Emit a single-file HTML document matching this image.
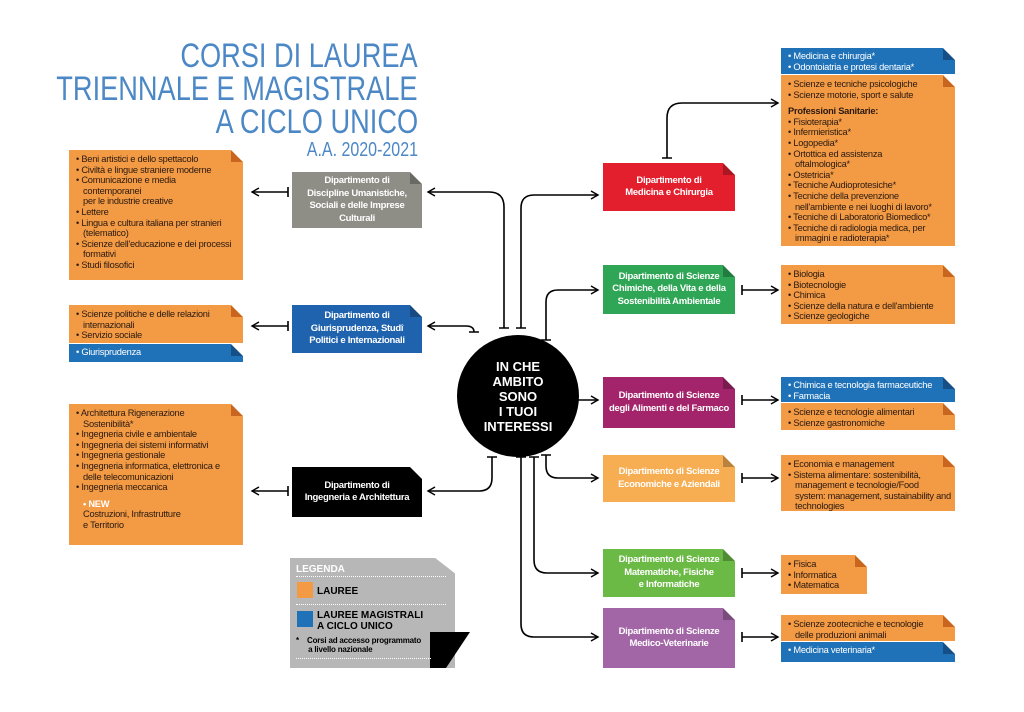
<!DOCTYPE html>
<html><head><meta charset="utf-8"><style>
body{margin:0;width:1024px;height:712px;background:#fff;position:relative;overflow:hidden;font-family:"Liberation Sans",sans-serif;}
.a{position:absolute;box-sizing:border-box;}
.o{background:#f39a45;color:#2a1a10;font-size:9.3px;letter-spacing:-0.25px;line-height:10.6px;padding:4px 4px 0 7px;}
.bl{background:#1f72b8;color:#fff;font-size:9.3px;letter-spacing:-0.25px;line-height:10.6px;padding:3px 4px 0 7px;}
.f::after{content:"";position:absolute;right:0;top:0;border-style:solid;border-width:0 12px 12px 0;border-color:transparent #fff transparent transparent;}
.f::before{content:"";position:absolute;right:0;top:0;width:12px;height:12px;background:linear-gradient(45deg,rgba(0,0,0,.25) 50%,transparent 50%);}
.o.f::before{background:linear-gradient(45deg,#c8651f 50%,transparent 50%);}
.bl.f::before{background:linear-gradient(45deg,#164f86 50%,transparent 50%);}
.d{color:#fff;font-weight:bold;font-size:9.5px;letter-spacing:-0.3px;line-height:12.5px;text-align:center;display:flex;align-items:center;justify-content:center;}
ul{margin:0;padding:0;list-style:none}
li{padding-left:7px;text-indent:-7px}
li::before{content:"• ";}
.t{position:absolute;right:606px;color:#4d88c6;font-size:34px;line-height:32px;text-align:right;white-space:nowrap;transform:scaleX(0.8);transform-origin:right center;}
</style></head><body>
<div class="t" style="top:40px">CORSI DI LAUREA</div>
<div class="t" style="top:73px">TRIENNALE E MAGISTRALE</div>
<div class="t" style="top:106px">A CICLO UNICO</div>
<div class="t" style="top:140px;font-size:20px;line-height:20px">A.A. 2020-2021</div>

<div class="a o f" style="left:69px;top:150px;width:174px;height:130px"><ul><li>Beni artistici e dello spettacolo</li><li>Civiltà e lingue straniere moderne</li><li>Comunicazione e media<br>contemporanei<br>per le industrie creative</li><li>Lettere</li><li>Lingua e cultura italiana per stranieri (telematico)</li><li>Scienze dell'educazione e dei processi formativi</li><li>Studi filosofici</li></ul></div>
<div class="a o f" style="left:69px;top:305px;width:174px;height:38px"><ul><li>Scienze politiche e delle relazioni internazionali</li><li>Servizio sociale</li></ul></div>
<div class="a bl f" style="left:69px;top:344px;width:174px;height:18px"><ul><li>Giurisprudenza</li></ul></div>
<div class="a o f" style="left:69px;top:404px;width:174px;height:141px"><ul><li>Architettura Rigenerazione<br>Sostenibilità*</li><li>Ingegneria civile e ambientale</li><li>Ingegneria dei sistemi informativi</li><li>Ingegneria gestionale</li><li>Ingegneria informatica, elettronica e delle telecomunicazioni</li><li>Ingegneria meccanica</li></ul><div style="margin-top:6px;padding-left:7px"><b style="color:#fff">• NEW</b><br>Costruzioni, Infrastrutture<br>e Territorio</div></div>

<div class="a d f" style="left:292px;top:172px;width:130px;height:56px;background:#8e8d86">Dipartimento di<br>Discipline Umanistiche,<br>Sociali e delle Imprese<br>Culturali</div>
<div class="a d f" style="left:292px;top:305px;width:130px;height:48px;background:#1f62ad">Dipartimento di<br>Giurisprudenza, Studî<br>Politici e Internazionali</div>
<div class="a d f" style="left:292px;top:467px;width:130px;height:50px;background:#000">Dipartimento di<br>Ingegneria e Architettura</div>

<div class="a" style="left:290px;top:558px;width:165px;height:110px;background:#b7b7b7;clip-path:polygon(0 0,88% 0,100% 14%,100% 100%,0 100%)"></div>
<div class="a" style="left:430px;top:632px;width:40px;height:36px;background:#000;clip-path:polygon(0 0,100% 0,40% 100%,0 100%)"></div>
<div class="a" style="left:296px;top:564px;width:150px;font-size:10px;color:#fff;font-weight:bold">LEGENDA</div>
<div class="a" style="left:296px;top:576px;width:150px;border-top:1px dotted #fff"></div>
<div class="a" style="left:297px;top:582px;width:16px;height:16px;background:#f39a45"></div>
<div class="a" style="left:317px;top:586px;font-size:10px;font-weight:bold">LAUREE</div>
<div class="a" style="left:296px;top:604px;width:150px;border-top:1px dotted #fff"></div>
<div class="a" style="left:297px;top:611px;width:16px;height:16px;background:#1f72b8"></div>
<div class="a" style="left:317px;top:610px;font-size:10px;font-weight:bold;line-height:11px">LAUREE MAGISTRALI<br>A CICLO UNICO</div>
<div class="a" style="left:296px;top:636px;font-size:8px;letter-spacing:-0.2px;font-weight:bold;line-height:9px">*&nbsp;&nbsp;&nbsp;&nbsp;Corsi ad accesso programmato<br>&nbsp;&nbsp;&nbsp;&nbsp;&nbsp;&nbsp;a livello nazionale</div>
<div class="a" style="left:296px;top:658px;width:135px;border-top:1px dotted #fff"></div>

<div class="a" style="left:457px;top:335px;width:122px;height:122px;border-radius:50%;background:#000;color:#fff;font-weight:bold;font-size:13px;line-height:15px;text-align:center;display:flex;align-items:center;justify-content:center">IN CHE<br>AMBITO<br>SONO<br>I TUOI<br>INTERESSI</div>

<div class="a d f" style="left:603px;top:163px;width:132px;height:48px;background:#e31f2e">Dipartimento di<br>Medicina e Chirurgia</div>
<div class="a d f" style="left:603px;top:265px;width:132px;height:49px;background:#2ea655">Dipartimento di Scienze<br>Chimiche, della Vita e della<br>Sostenibilità Ambientale</div>
<div class="a d f" style="left:603px;top:377px;width:132px;height:51px;background:#a3246b">Dipartimento di Scienze<br>degli Alimenti e del Farmaco</div>
<div class="a d f" style="left:603px;top:455px;width:132px;height:47px;background:#f7ae52">Dipartimento di Scienze<br>Economiche e Aziendali</div>
<div class="a d f" style="left:603px;top:549px;width:132px;height:48px;background:#6cba46">Dipartimento di Scienze<br>Matematiche, Fisiche<br>e Informatiche</div>
<div class="a d f" style="left:603px;top:608px;width:132px;height:60px;background:#a265a6">Dipartimento di Scienze<br>Medico-Veterinarie</div>

<div class="a bl f" style="left:781px;top:48px;width:174px;height:26px"><ul><li>Medicina e chirurgia*</li><li>Odontoiatria e protesi dentaria*</li></ul></div>
<div class="a o f" style="left:781px;top:75px;width:174px;height:171px"><ul><li>Scienze e tecniche psicologiche</li><li>Scienze motorie, sport e salute</li></ul><div style="margin-top:6px"><b>Professioni Sanitarie:</b></div><ul><li>Fisioterapia*</li><li>Infermieristica*</li><li>Logopedia*</li><li>Ortottica ed assistenza<br>oftalmologica*</li><li>Ostetricia*</li><li>Tecniche Audioprotesiche*</li><li>Tecniche della prevenzione<br>nell'ambiente e nei luoghi di lavoro*</li><li>Tecniche di Laboratorio Biomedico*</li><li>Tecniche di radiologia medica, per<br>immagini e radioterapia*</li></ul></div>
<div class="a o f" style="left:781px;top:265px;width:174px;height:59px"><ul><li>Biologia</li><li>Biotecnologie</li><li>Chimica</li><li>Scienze della natura e dell'ambiente</li><li>Scienze geologiche</li></ul></div>
<div class="a bl f" style="left:781px;top:377px;width:174px;height:25px"><ul><li>Chimica e tecnologia farmaceutiche</li><li>Farmacia</li></ul></div>
<div class="a o f" style="left:781px;top:403px;width:174px;height:27px"><ul><li>Scienze e tecnologie alimentari</li><li>Scienze gastronomiche</li></ul></div>
<div class="a o f" style="left:781px;top:455px;width:174px;height:56px"><ul><li>Economia e management</li><li>Sistema alimentare: sostenibilità, management e tecnologie/Food system: management, sustainability and technologies</li></ul></div>
<div class="a o f" style="left:781px;top:555px;width:86px;height:39px"><ul><li>Fisica</li><li>Informatica</li><li>Matematica</li></ul></div>
<div class="a o f" style="left:781px;top:615px;width:174px;height:26px"><ul><li>Scienze zootecniche e tecnologie<br>delle produzioni animali</li></ul></div>
<div class="a bl f" style="left:781px;top:642px;width:174px;height:20px"><ul><li>Medicina veterinaria*</li></ul></div>

<svg class="a" style="left:0;top:0" width="1024" height="712" viewBox="0 0 1024 712">
<defs><marker id="ar" markerWidth="10" markerHeight="10" refX="8" refY="5" orient="auto" markerUnits="userSpaceOnUse"><path d="M1,1 L8,5 L1,9" fill="none" stroke="#000" stroke-width="1.4"/></marker></defs>
<g fill="none" stroke="#000" stroke-width="1.6" marker-end="url(#ar)">
<path d="M288,192 H252"/><path d="M288,326 H252"/><path d="M288,491 H252"/>
<path d="M504,328 V207 Q504,192 489,192 H428"/>
<path d="M474,332 Q474,326 466,326 H428"/>
<path d="M492,457 V478 Q492,491 479,491 H428"/>
<path d="M521,328 V208 Q521,195 534,195 H598"/>
<path d="M546,340 V302 Q546,290 558,290 H598"/>
<path d="M572,400 H598"/>
<path d="M546,455 V466 Q546,478 558,478 H598"/>
<path d="M534,457 V560 Q534,573 547,573 H598"/>
<path d="M521,457 V624 Q521,637 534,637 H598"/>
<path d="M667,158 V118 Q667,103 682,103 H778"/>
<path d="M742,290 H778"/><path d="M742,400 H778"/><path d="M742,478 H778"/><path d="M742,573 H778"/><path d="M742,637 H778"/>
</g>
<g stroke="#000" stroke-width="1.6">
<path d="M288,187 V197 M288,321 V331 M288,486 V496 M499,328 H509 M469,332 H479 M516,328 H526 M541,340 H551 M572,395 V405 M487,457 H497 M541,455 H551 M529,457 H539 M516,457 H526 M662,158 H672 M742,285 V295 M742,395 V405 M742,473 V483 M742,568 V578 M742,632 V642"/>
</g>
</svg>
</body></html>
